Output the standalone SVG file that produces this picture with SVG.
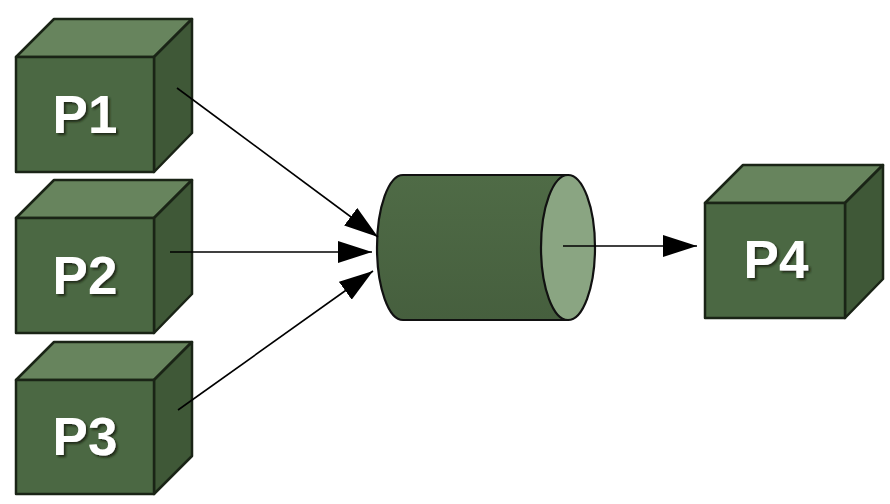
<svg xmlns="http://www.w3.org/2000/svg" width="890" height="504" viewBox="0 0 890 504">
  <defs>
    <marker id="arr" markerUnits="userSpaceOnUse" markerWidth="34" markerHeight="22" refX="34" refY="11" orient="auto" viewBox="0 0 34 22">
      <path d="M0,0 L34,11 L0,22 Z" fill="#000"/>
    </marker>
    <linearGradient id="bodyGrad" x1="0" y1="0" x2="0" y2="1">
      <stop offset="0" stop-color="#4f6b46"/>
      <stop offset="1" stop-color="#465f3e"/>
    </linearGradient>
    <filter id="shd" x="-20%" y="-20%" width="140%" height="140%">
      <feDropShadow dx="2" dy="2" stdDeviation="0.8" flood-color="#141c11" flood-opacity="0.85"/>
    </filter>
  </defs>
  <style>
    .front { fill: #4b6843; stroke: #1a2416; stroke-width: 2.5; stroke-linejoin: round; }
    .top { fill: #67845d; stroke: #1a2416; stroke-width: 2.5; stroke-linejoin: round; }
    .side { fill: #3f5837; stroke: #1a2416; stroke-width: 2.5; stroke-linejoin: round; }
    .lbl { font-family: "Liberation Sans", Arial, sans-serif; font-weight: bold; font-size: 53px; text-anchor: middle; fill: #ffffff; filter: url(#shd); }
    .conn { stroke: #000; stroke-width: 1.6; fill: none; marker-end: url(#arr); }
  </style>
  <rect width="890" height="504" fill="#ffffff"/>

  <g id="P1">
    <polygon class="top" points="16,57 54,19 192,19 154,57"/>
    <polygon class="side" points="154,57 192,19 192,133 154,172"/>
    <rect class="front" x="16" y="57" width="138" height="115"/>
    <text class="lbl" x="85" y="133">P1</text>
  </g>

  <g id="P2">
    <polygon class="top" points="16,218 54,180 192,180 154,218"/>
    <polygon class="side" points="154,218 192,180 192,294 154,333"/>
    <rect class="front" x="16" y="218" width="138" height="115"/>
    <text class="lbl" x="85" y="294">P2</text>
  </g>

  <g id="P3">
    <polygon class="top" points="16,380 54,342 192,342 154,380"/>
    <polygon class="side" points="154,380 192,342 192,456 154,494"/>
    <rect class="front" x="16" y="380" width="138" height="114"/>
    <text class="lbl" x="85" y="455">P3</text>
  </g>

  <g id="queue">
    <path d="M403,175 L568,175 L568,320 L403,320 A26,72.5 0 0 1 403,175 Z" fill="url(#bodyGrad)" stroke="#111" stroke-width="2.2"/>
    <ellipse cx="568" cy="247.5" rx="27" ry="72.5" fill="#8aa582" stroke="#111" stroke-width="2.2"/>
  </g>

  <g id="P4">
    <polygon class="top" points="705,203 743,165 883,165 845,203"/>
    <polygon class="side" points="845,203 883,165 883,279 845,318"/>
    <rect class="front" x="705" y="203" width="140" height="115"/>
    <text class="lbl" x="776" y="278">P4</text>
  </g>

  <g id="connectors">
    <line class="conn" x1="177" y1="88" x2="378" y2="237"/>
    <line class="conn" x1="170" y1="252" x2="372" y2="252"/>
    <line class="conn" x1="178" y1="410" x2="373" y2="271"/>
    <line class="conn" x1="563" y1="246" x2="697" y2="246"/>
  </g>
</svg>
